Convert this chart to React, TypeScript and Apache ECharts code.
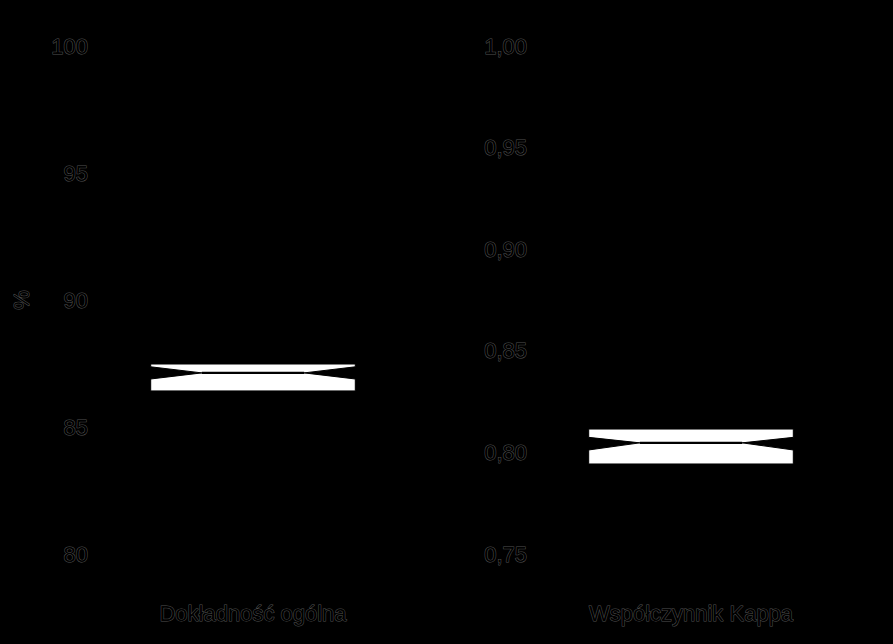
import React, { useEffect, useRef } from 'react'
import * as echarts from 'echarts'

// panel titles (x categories)
const accCategories = ['Dokładność ogólna']
const kappaCategories = ['Współczynnik Kappa']

// [whiskerLow, q1, median, q3, whiskerHigh, notchLow, notchHigh]
const accBox = [86.0, 86.42, 87.13, 87.48, 87.9, 86.89, 87.37]
const kappaBox = [0.788, 0.7943, 0.8047, 0.8115, 0.818, 0.8012, 0.8074]

const accTicks = { min: 80, max: 100, interval: 5 }
const kappaTicks = { min: 0.75, max: 1.0, interval: 0.05 }

const textStyle = {
  color: '#000',
  textBorderColor: '#505050',
  textBorderWidth: 1,
  fontFamily: 'Liberation Sans, Arial, sans-serif',
  fontSize: 22,
}

const notchWidth = 0.5
const boxFrac = 0.66

const renderNotched = (params: any, api: any) => {
  const cat = api.value(0)
  const lo = api.value(1)
  const q1 = api.value(2)
  const med = api.value(3)
  const q3 = api.value(4)
  const hi = api.value(5)
  const nLo = api.value(6)
  const nHi = api.value(7)
  const band = api.size([1, 0])[0]
  const half = (band * boxFrac) / 2
  const cx = api.coord([cat, med])[0]
  const y = (v: number) => api.coord([cat, v])[1]
  const xl = cx - half
  const xr = cx + half
  const inset = half * notchWidth
  return {
    type: 'group',
    children: [
      {
        type: 'line',
        shape: { x1: cx, y1: y(q3), x2: cx, y2: y(hi) },
        style: { stroke: '#000', lineWidth: 1 },
      },
      {
        type: 'line',
        shape: { x1: cx, y1: y(q1), x2: cx, y2: y(lo) },
        style: { stroke: '#000', lineWidth: 1 },
      },
      {
        type: 'polygon',
        shape: {
          points: [
            [xl, y(q3)],
            [xr, y(q3)],
            [xr, y(nHi)],
            [xr - inset, y(med)],
            [xr, y(nLo)],
            [xr, y(q1)],
            [xl, y(q1)],
            [xl, y(nLo)],
            [xl + inset, y(med)],
            [xl, y(nHi)],
          ],
        },
        style: { fill: '#fff', stroke: '#000', lineWidth: 1 },
      },
      {
        type: 'line',
        shape: { x1: xl + inset, y1: y(med), x2: xr - inset, y2: y(med) },
        style: { stroke: '#000', lineWidth: 2.4 },
      },
    ],
  }
}

const App: React.FC = () => {
  const chartRef = useRef<HTMLDivElement>(null)

  useEffect(() => {
    document.body.style.background = '#000'
    if (!chartRef.current) return
    const chart = echarts.init(chartRef.current, null, { renderer: 'svg' })
    const yAxisBase = {
      type: 'value',
      axisLine: { show: false },
      axisTick: { show: false },
      splitLine: { show: false },
    }
    chart.setOption({
      animation: false,
      backgroundColor: '#000',
      grid: [
        { left: 98, width: 310, top: 46, height: 508 },
        { left: 536, width: 310, top: 46, height: 508 },
      ],
      xAxis: [
        {
          type: 'category',
          gridIndex: 0,
          data: accCategories,
          axisLine: { show: false },
          axisTick: { show: false },
          axisLabel: { ...textStyle, margin: 48 },
        },
        {
          type: 'category',
          gridIndex: 1,
          data: kappaCategories,
          axisLine: { show: false },
          axisTick: { show: false },
          axisLabel: { ...textStyle, margin: 48 },
        },
      ],
      yAxis: [
        {
          ...yAxisBase,
          gridIndex: 0,
          ...accTicks,
          name: '%',
          nameLocation: 'middle',
          nameRotate: 90,
          nameGap: 66,
          nameTextStyle: textStyle,
          axisLabel: { ...textStyle, margin: 10, formatter: (v: number) => String(Math.round(v)) },
        },
        {
          ...yAxisBase,
          gridIndex: 1,
          ...kappaTicks,
          axisLabel: {
            ...textStyle,
            margin: 9,
            formatter: (v: number) => v.toFixed(2).replace('.', ','),
          },
        },
      ],
      series: [
        {
          type: 'custom',
          xAxisIndex: 0,
          yAxisIndex: 0,
          renderItem: renderNotched,
          data: [[0, ...accBox]],
        },
        {
          type: 'custom',
          xAxisIndex: 1,
          yAxisIndex: 1,
          renderItem: renderNotched,
          data: [[0, ...kappaBox]],
        },
      ],
    })
    return () => chart.dispose()
  }, [])

  return (
    <div
      ref={chartRef}
      style={{ position: 'absolute', left: 0, top: 0, width: 893, height: 644 }}
    />
  )
}

export default App
